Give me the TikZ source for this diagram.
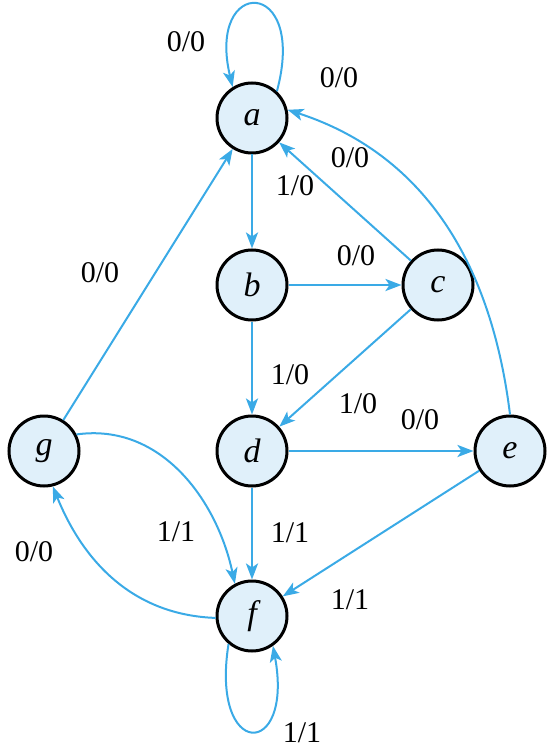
\documentclass[tikz,border=0pt]{standalone}
\usepackage{fontspec}
\setmainfont{Liberation Serif}
\usetikzlibrary{arrows.meta}
\definecolor{edgeblue}{RGB}{58,170,230}
\definecolor{nodefill}{RGB}{224,240,250}
\begin{document}
\begin{tikzpicture}[x=1pt,y=-1pt,
  state/.style={circle,draw=black,line width=3pt,fill=nodefill,minimum size=70pt,inner sep=0pt,font=\fontsize{34}{38}\selectfont\itshape},
  edge/.style={draw=edgeblue,line width=2pt,-{Stealth[length=16pt,width=12pt,inset=4pt]}},
  thick edge/.style={edge,line width=2.6pt},
  lbl/.style={font=\fontsize{30}{34}\selectfont,inner sep=0pt}]
\useasboundingbox (0,0) rectangle (550,751);
\node[state] (a) at (252,118) {a};
\node[state] (b) at (252,285) {b};
\node[state] (c) at (438,285) {c};
\node[state] (d) at (252,451) {d};
\node[state] (e) at (510,451) {e};
\node[state] (g) at (44,451) {g};
\node[state] (f) at (252,616) {f};
% self loop a
\draw[edge] (a.47) .. controls (308,-24) and (206,-24) .. (a.122);
\node[lbl] (la) at (186,42) {0/0};
% e -> a
\draw[edge] (e.north) to[out=97,in=-18] (a.13);
\node[lbl] (lea) at (339,78) {0/0};
% c -> a
\draw[edge] (c) -- (a);
\node[lbl] (lca) at (350,158) {0/0};
% a -> b
\draw[thick edge] (a) -- (b);
\node[lbl] (lab) at (295,186) {1/0};
% b -> c
\draw[thick edge] (b) -- (c);
\node[lbl] (lbc) at (356,256) {0/0};
% b -> d
\draw[thick edge] (b) -- (d);
\node[lbl] (lbd) at (290,375) {1/0};
% c -> d
\draw[edge] (c) -- (d);
\node[lbl] (lcd) at (358,404) {1/0};
% d -> e
\draw[thick edge] (d) -- (e);
\node[lbl] (lde) at (420,420) {0/0};
% d -> f
\draw[thick edge] (d) -- (f);
\node[lbl] (ldf) at (290,533) {1/1};
% e -> f
\draw[edge] (e) -- (f);
\node[lbl] (lef) at (350,600) {1/1};
% g -> a
\draw[edge] (g) -- (a);
\node[lbl] (lga) at (100,273) {0/0};
% g -> f
\draw[edge] (g.27) to[out=8,in=102] (f.118);
\node[lbl] (lgf) at (176,532) {1/1};
% f -> g
\draw[edge] (f.183) to[out=178,in=-68] (g.-76);
\node[lbl] (lfg) at (34,552) {0/0};
% self loop f
\draw[edge] (f.230) .. controls (210,760) and (294,760) .. (f.305);
\node[lbl] (lf) at (302,733) {1/1};
\end{tikzpicture}
\end{document}
